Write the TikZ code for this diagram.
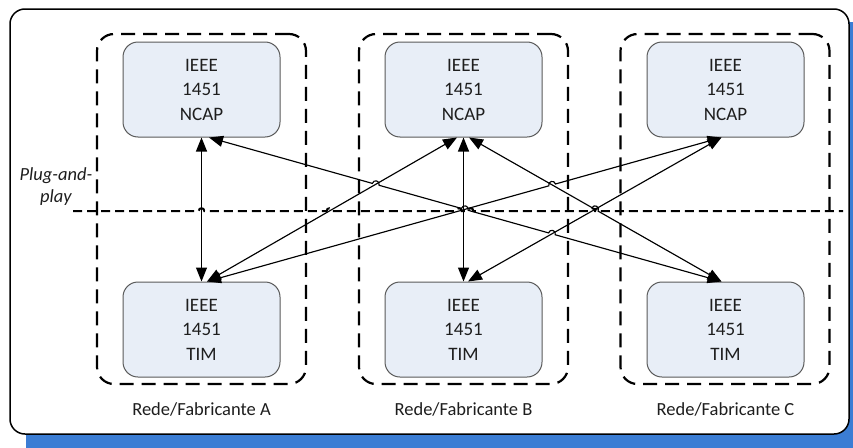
\documentclass[tikz,border=0pt]{standalone}
\usepackage{fontspec}
\setmainfont{Carlito}
\usetikzlibrary{arrows.meta,calc}

\definecolor{shadowblue}{RGB}{59,125,212}
\definecolor{boxfill}{RGB}{232,238,247}
\definecolor{boxline}{RGB}{90,90,90}
\definecolor{ink}{RGB}{30,30,30}

% size of the small line jumps at crossings
\newcommand\hopr{3.5pt}
\newcommand\hopk{4.7pt}
% jump over a crossing: #1 start, #2 crossing point, #3 end, #4 bulge direction
\newcommand\hop[4]{-- ($(#2)!\hopr!(#1)$) .. controls +(#4:\hopk) and +(#4:\hopk) .. ($(#2)!\hopr!(#3)$)}

\begin{document}
\begin{tikzpicture}[x=1pt,y=1pt,
  ieeebox/.style={draw=boxline, line width=1pt, fill=boxfill, rounded corners=15pt,
    minimum width=157pt, minimum height=95pt, inner sep=0pt, align=center,
    text=ink, font=\fontsize{19}{24.5}\selectfont},
  groupbox/.style={draw=black, line width=2.2pt, dash pattern=on 14pt off 8pt,
    rounded corners=17pt, minimum width=209pt, minimum height=350pt, inner sep=0pt},
  caption/.style={text=ink, font=\fontsize{18.5}{22}\selectfont, inner sep=0pt, anchor=base},
  link/.style={line width=1.15pt, draw=black,
    {Triangle[length=14pt,width=11pt]}-{Triangle[length=14pt,width=11pt]}},
  ppline/.style={line width=2pt, dash pattern=on 9pt off 5pt}]

\useasboundingbox (0,0) rectangle (853,-447);

% frame with its offset shadow
\begin{scope}
  \clip (0,0) rectangle (853,-447);
  \fill[shadowblue, rounded corners=15pt] (26,-22) rectangle (866,-462);
\end{scope}
\draw[line width=1.5pt, fill=white, rounded corners=15pt] (10,-9) rectangle (849,-434);

% vendor groups
\node[groupbox] (ga) at (201.5,-209) {};
\node[groupbox] (gb) at (463.5,-209) {};
\node[groupbox] (gc) at (725,-209) {};

% NCAP and TIM blocks
\node[ieeebox] (na) at (201.5,-89.5) {IEEE\\1451\\NCAP};
\node[ieeebox] (nb) at (463.5,-89.5) {IEEE\\1451\\NCAP};
\node[ieeebox] (nc) at (725.5,-89.5) {IEEE\\1451\\NCAP};
\node[ieeebox] (ta) at (201.5,-329.5) {IEEE\\1451\\TIM};
\node[ieeebox] (tb) at (463.5,-329.5) {IEEE\\1451\\TIM};
\node[ieeebox] (tc) at (725.5,-329.5) {IEEE\\1451\\TIM};

% captions
\node[caption] (capa) at (201.5,-415) {Rede/Fabricante A};
\node[caption] (capb) at (463.5,-415) {Rede/Fabricante B};
\node[caption] (capc) at (725.5,-415) {Rede/Fabricante C};
\node[caption, font=\fontsize{18.5}{22}\selectfont\itshape] (pp1) at (56,-180) {Plug-and-};
\node[caption, font=\fontsize{18.5}{22}\selectfont\itshape] (pp2) at (56,-202) {play};

% connector end points on the blocks
\coordinate (na3) at ($(na.south)+(7.5,0)$);
\coordinate (taD) at ($(ta.north)+(5.5,0)$);
\coordinate (nb4) at ($(nb.south)+(-6.5,0)$);
\coordinate (nb6) at ($(nb.south)+(5.5,0)$);
\coordinate (tb7) at ($(tb.north)+(4.5,0)$);
\coordinate (ncD) at ($(nc.south)+(-4,0)$);
\coordinate (tcD) at ($(tc.north)+(-4,0)$);
\coordinate (nav) at (na.south);
\coordinate (tav) at (ta.north);
\coordinate (ppl) at (73,-211);
\coordinate (ppr) at (843,-211);

% crossings
\coordinate (x34) at (intersection of na3--tcD and taD--nb4);
\coordinate (x35) at (intersection of na3--tcD and taD--ncD);
\coordinate (x37) at (intersection of na3--tcD and tb7--ncD);
\coordinate (x56) at (intersection of taD--ncD and nb6--tcD);
\coordinate (x67) at (intersection of nb6--tcD and tb7--ncD);
\coordinate (dA) at (intersection of ppl--ppr and nav--tav);
\coordinate (d4) at (intersection of ppl--ppr and taD--nb4);
\coordinate (d5) at (intersection of ppl--ppr and taD--ncD);
\coordinate (d3) at (intersection of ppl--ppr and na3--tcD);
\coordinate (d7) at (intersection of ppl--ppr and tb7--ncD);
\coordinate (d6) at (intersection of ppl--ppr and nb6--tcD);

% plug-and-play boundary
\begingroup
\renewcommand\hopr{2.8pt}\renewcommand\hopk{3.7pt}
\draw[ppline] (ppl) \hop{ppl}{dA}{ppr}{90} \hop{ppl}{d4}{ppr}{90} \hop{ppl}{d5}{ppr}{90}
  \hop{ppl}{d3}{ppr}{90} \hop{ppl}{d7}{ppr}{90} \hop{ppl}{d6}{ppr}{90} -- (ppr);
\endgroup

% links
\draw[link] (na) -- (ta);
\draw[link] (nb) -- (tb);
\draw[link] (taD) -- (nb4);
\draw[link] (tb7) -- (ncD);
\draw[link] (na3) \hop{na3}{x34}{tcD}{74.2} \hop{na3}{x35}{tcD}{74.2} \hop{na3}{x37}{tcD}{74.2} -- (tcD);
\draw[link] (taD) \hop{taD}{x56}{ncD}{105.7} -- (ncD);
\draw[link] (nb6) \hop{nb6}{x67}{tcD}{60.1} -- (tcD);

\end{tikzpicture}
\end{document}
